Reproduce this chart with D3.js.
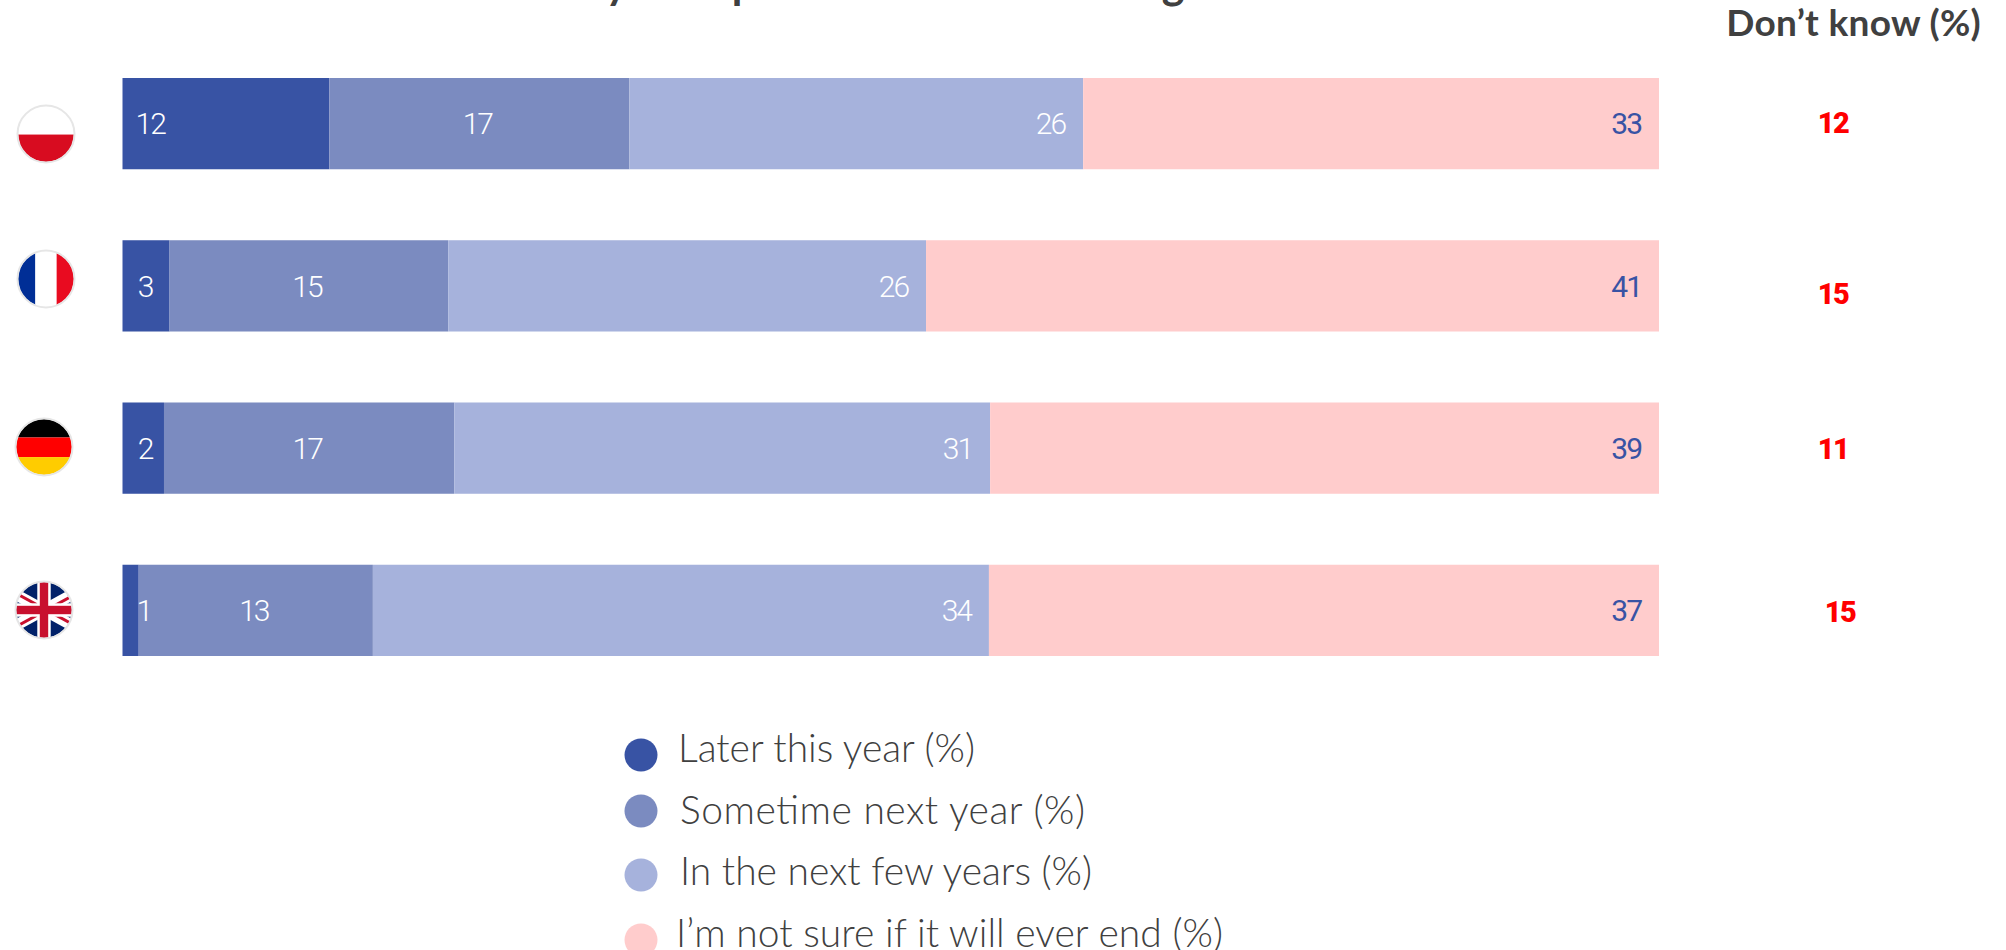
<!DOCTYPE html>
<html><head><meta charset="utf-8">
<script src="https://cdn.jsdelivr.net/npm/d3@7/dist/d3.min.js"></script>
<style>html,body{margin:0;padding:0;background:#fff;overflow:hidden}svg{display:block}</style>
</head><body><svg id="c" width="2006" height="950"></svg>
<script>
const countries = ["Poland","France","Germany","UK"];
const laterThisYear = [11.85,2.6,2.4,0.9];
const nextYear = [17.2,15.4,16.8,13.0];
const nextFewYears = [26.0,26.4,31.0,34.2];
const notSure = [33.0,40.5,38.7,37.2];
const dontKnow = [12,15,11,15];
const seriesNames = ["Later this year (%)","Sometime next year (%)","In the next few years (%)","I’m not sure if it will ever end (%)"];
const seriesColors = ["#3853a4","#7b8bc0","#a6b2dc","#ffcccc"];
const seriesValues = [laterThisYear,nextYear,nextFewYears,notSure];
const dkHeader = "Don’t know (%)";
const titleText = "When do you expect the war to end at great cost?";

const svg = d3.select("#c");
const rows = countries.map((c,i)=>{const o={country:c};seriesNames.forEach((s,j)=>o[s]=seriesValues[j][i]);return o;});
const stacked = d3.stack().keys(seriesNames).offset(d3.stackOffsetExpand)(rows);
const x = d3.scaleLinear().domain([0,1]).range([122.5,1659]);
const y = d3.scaleBand().domain(countries).range([78,656]).paddingInner(0.4375).paddingOuter(0);
const color = d3.scaleOrdinal(seriesNames,seriesColors);

// title: only the descenders fall inside the frame
svg.append("text").attr("x",420).attr("y",-1).attr("text-anchor","start")
  .attr("font-family","Lato").attr("font-weight",700).attr("font-size",43).attr("fill","#404040")
  .text(titleText);

stacked.forEach(s=>{
  svg.append("g").selectAll("rect").data(s).join("rect")
    .attr("x",d=>x(d[0])).attr("width",d=>x(d[1])-x(d[0]))
    .attr("y",d=>y(d.data.country)).attr("height",y.bandwidth())
    .attr("fill",color(s.key));
});
stacked.forEach((s,j)=>{
  const val=d=>d.data[s.key];
  const lx=d=>{
    if(j===0) return val(d)>5 ? x(d[0])+13 : val(d)<1 ? x(d[1])+5 : x(d[0])+22.5;
    if(j===1) return (x(d[0])+x(d[1]))/2-2;
    return x(d[1])-18;
  };
  svg.append("g").selectAll("text").data(s).join("text")
    .attr("x",lx)
    .attr("y",d=>y(d.data.country)+y.bandwidth()/2)
    .attr("dy","0.36em")
    .attr("text-anchor",d=> (j===0 && val(d)>5)?"start":(j>=2?"end":"middle"))
    .attr("font-family","Roboto").attr("font-weight",j===3?400:300).attr("font-size",30)
    .attr("letter-spacing",-2)
    .attr("fill",j===3?"#3853a4":"#fff")
    .text(d=>Math.round(val(d)));
});

// flags
const flagCx=[46,46,44,44], flagCy=[134,279,447,610];
const defs=svg.append("defs");
countries.forEach((c,i)=>{
  const r=28,cx=flagCx[i],cy=flagCy[i];
  defs.append("clipPath").attr("id","f"+i).append("circle").attr("cx",cx).attr("cy",cy).attr("r",r);
  const g=svg.append("g").attr("clip-path",`url(#f${i})`);
  const R=(xx,yy,w,h,f)=>g.append("rect").attr("x",cx+xx*r).attr("y",cy+yy*r).attr("width",w*r).attr("height",h*r).attr("fill",f);
  if(c==="Poland"){R(-1,-1,2,1.02,"#fff");R(-1,0.02,2,1,"#d80c20");}
  if(c==="France"){R(-1,-1,.62,2,"#002e96");R(-.38,-1,.76,2,"#fff");R(.38,-1,.62,2,"#e90b20");}
  if(c==="Germany"){R(-1,-1,2,.66,"#000");R(-1,-.34,2,.7,"#f00");R(-1,.36,2,.64,"#ffcc00");}
  if(c==="UK"){
    R(-1,-1,2,2,"#012169");
    const L=(a,b,c2,d,w,f)=>g.append("line").attr("x1",cx+a*r).attr("y1",cy+b*r).attr("x2",cx+c2*r).attr("y2",cy+d*r).attr("stroke",f).attr("stroke-width",w);
    L(-1,-.55,1,.55,11,"#fff");L(-1,.55,1,-.55,11,"#fff");
    L(-1,-.6,1,.5,3,"#c8102e");L(-1,.6,1,-.5,3,"#c8102e");
    R(-1,-.24,2,.48,"#fff");R(-.24,-1,.48,2,"#fff");
    R(-1,-.15,2,.3,"#c8102e");R(-.15,-1,.3,2,"#c8102e");
  }
  svg.append("circle").attr("cx",cx).attr("cy",cy).attr("r",r+.5).attr("fill","none").attr("stroke","#e6e6e6").attr("stroke-width",2);
});

// don't know column
svg.append("text").attr("x",1981).attr("y",36).attr("text-anchor","end")
  .attr("font-family","Lato").attr("font-weight",700).attr("font-size",37).attr("letter-spacing",.3).attr("fill","#404040").text(dkHeader);
const dkX=[1833,1833,1833,1840], dkY=[123,294,449,612];
svg.append("g").selectAll("text").data(dontKnow).join("text")
  .attr("x",(d,i)=>dkX[i]).attr("y",(d,i)=>dkY[i]).attr("dy","0.36em").attr("text-anchor","middle")
  .attr("font-family","Roboto").attr("font-weight",900).attr("font-size",29).attr("letter-spacing",-1.5).attr("fill","#ff0000").text(d=>d);

// legend
const legX=[678,680,680,676], legY=[748,810,871,933], dotY=[755,811,875,940], legW=[297,405,412,547];
const leg=svg.append("g");
leg.selectAll("circle").data(seriesNames).join("circle")
  .attr("cx",641).attr("cy",(d,i)=>dotY[i]).attr("r",16.5).attr("fill",d=>color(d));
leg.selectAll("text").data(seriesNames).join("text")
  .attr("x",(d,i)=>legX[i]).attr("y",(d,i)=>legY[i]).attr("dy","0.36em")
  .attr("textLength",(d,i)=>legW[i]).attr("lengthAdjust","spacing")
  .attr("font-family","Lato").attr("font-weight",300).attr("font-size",39).attr("fill","#404040").text(d=>d);
</script></body></html>
